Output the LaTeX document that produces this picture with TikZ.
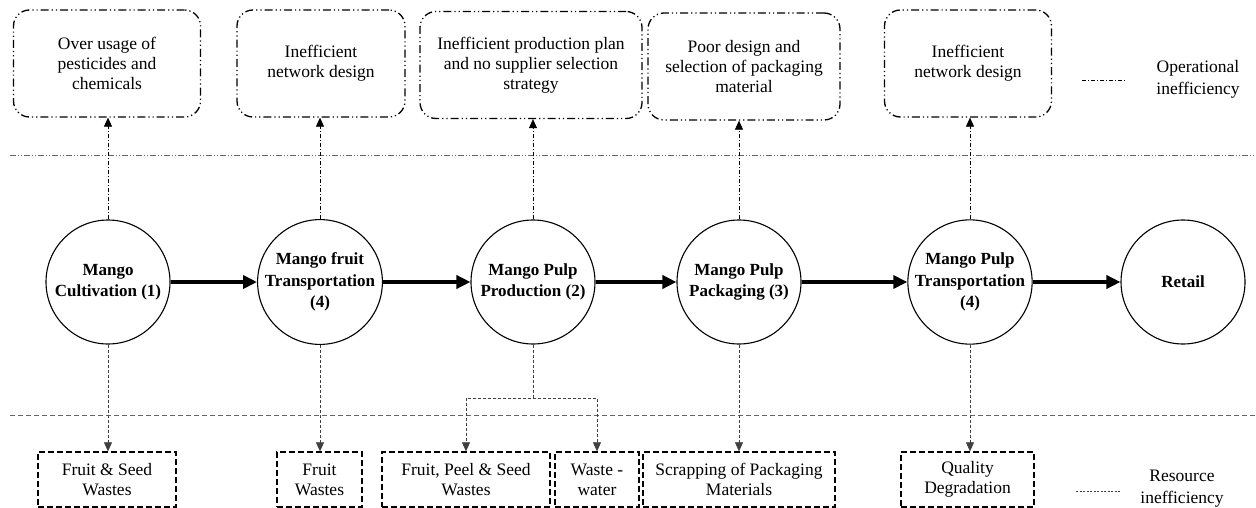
\documentclass[tikz,border=0pt]{standalone}
\usepackage{fontspec}
\setmainfont{Liberation Serif}
\usetikzlibrary{arrows.meta}

\begin{document}
\begin{tikzpicture}[x=1pt,y=-1pt,
	stage/.style={circle, draw, line width=1.1pt, minimum size=124pt, inner sep=0pt, align=center, font=\fontsize{17}{21.5}\selectfont\bfseries},
	cause/.style={draw, rounded corners=16pt, line width=1.3pt, dash pattern=on 8pt off 3pt on 1.2pt off 3pt on 1.2pt off 3pt, minimum height=107pt, align=center, font=\fontsize{17.5}{20}\selectfont},
	waste/.style={draw, line width=1.3pt, dash pattern=on 6pt off 3pt, minimum height=55pt, inner sep=2pt, align=center, font=\fontsize{17.5}{20}\selectfont},
	flow/.style={line width=3.5pt, -{Triangle[length=14pt,width=13pt]}},
	opline/.style={line width=0.6pt, dash pattern=on 4pt off 2pt on 1pt off 2pt, -{Triangle[length=9pt,width=8pt]}},
	resline/.style={black!75, line width=0.6pt, dash pattern=on 3pt off 2pt, -{Triangle[length=9pt,width=8pt]}},
	legtext/.style={align=center, font=\fontsize{17.5}{22}\selectfont}]
		%\draw [help lines] (0,0) grid[step=50] (1256,508);
		\useasboundingbox (0,0) rectangle (1256,508);
		\draw[black!60, line width=0.8pt, dash pattern=on 6pt off 2pt on 1pt off 2pt on 1pt off 2pt] (10,155) -- (1256,155);
		\draw[black!60, line width=0.8pt, dash pattern=on 5pt off 3pt] (10,415) -- (1256,415);

		\node[stage] (cult) at (108,282) {Mango\\Cultivation (1)};
		\node[stage] (trans) at (320,282) {Mango fruit\\Transportation\\(4)};
		\node[stage] (prod) at (533,282) {Mango Pulp\\Production (2)};
		\node[stage] (pack) at (739,282) {Mango Pulp\\Packaging (3)};
		\node[stage] (ptrans) at (970,282) {Mango Pulp\\Transportation\\(4)};
		\node[stage] (retail) at (1183,282) {Retail};
		\draw[flow] (cult) -- (trans);
		\draw[flow] (trans) -- (prod);
		\draw[flow] (prod) -- (pack);
		\draw[flow] (pack) -- (ptrans);
		\draw[flow] (ptrans) -- (retail);

		\node[cause, minimum width=187pt] (over) at (107,63.5) {Over usage of\\pesticides and\\chemicals};
		\node[cause, minimum width=168pt] (net1) at (321,63.5) {Inefficient\\network design};
		\node[cause, minimum width=222pt] (plan) at (531,65) {Inefficient production plan\\and no supplier selection\\strategy};
		\node[cause, minimum width=192pt] (design) at (744,66.5) {Poor design and\\selection of packaging\\material};
		\node[cause, minimum width=167pt] (net2) at (968,63.5) {Inefficient\\network design};
		\draw[opline] (cult.north) -- (cult.north |- over.south);
		\draw[opline] (trans.north) -- (trans.north |- net1.south);
		\draw[opline] (prod.north) -- (prod.north |- plan.south);
		\draw[opline] (pack.north) -- (pack.north |- design.south);
		\draw[opline] (ptrans.north) -- (ptrans.north |- net2.south);

		\node[waste, minimum width=138pt] (seed) at (107,479.5) {Fruit \& Seed\\Wastes};
		\node[waste, minimum width=85pt] (fruit) at (319.5,479.5) {Fruit\\Wastes};
		\node[waste, minimum width=168pt] (peel) at (466,479.5) {Fruit, Peel \& Seed\\Wastes};
		\node[waste, minimum width=84pt] (water) at (597,479.5) {Waste -\\water};
		\node[waste, minimum width=192pt] (scrap) at (739,479.5) {Scrapping of Packaging\\Materials};
		\node[waste, minimum width=133pt] (quality) at (967.5,479.5) {Quality\\Degradation};
		\coordinate (split) at (533,398);
		\draw[resline] (cult.south) -- (cult.south |- seed.north);
		\draw[resline] (trans.south) -- (trans.south |- fruit.north);
		\draw[resline] (prod.south) -- (split) -| (peel.north);
		\draw[resline] (split) -| (water.north);
		\draw[resline] (pack.south) -- (pack.south |- scrap.north);
		\draw[resline] (ptrans.south) -- (ptrans.south |- quality.north);

		\coordinate (opa) at (1082,80);
		\coordinate (opb) at (1125,80);
		\draw[opline,-] (opa) -- (opb);
		\node[legtext] (oplab) at (1198,79) {Operational\\inefficiency};
		\coordinate (resa) at (1076,491);
		\coordinate (resb) at (1120,491);
		\draw[resline,-, dash pattern=on 2pt off 1.5pt] (resa) -- (resb);
		\node[legtext] (reslab) at (1182,489) {Resource\\inefficiency};
\end{tikzpicture}
\end{document}
